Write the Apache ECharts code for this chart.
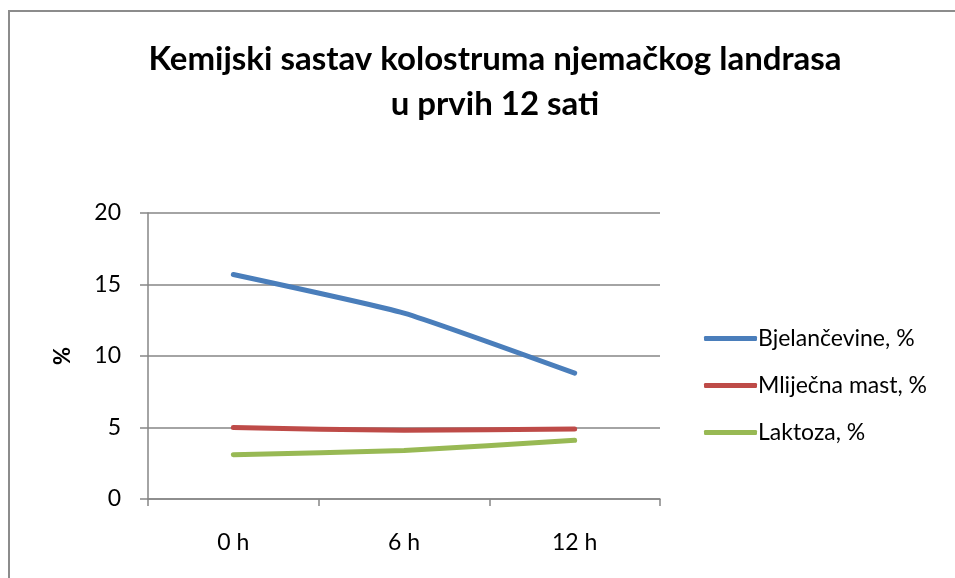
<!DOCTYPE html>
<html>
<head>
<meta charset="utf-8">
<script src="https://cdn.jsdelivr.net/npm/echarts@6/dist/echarts.min.js"></script>
<style>
  html, body { margin: 0; padding: 0; background: #fff; }
  #chart { width: 955px; height: 578px; }
</style>
</head>
<body>
<div id="chart"></div>
<script>
const categories = ['0 h', '6 h', '12 h']
const bjelancevine = [15.7, 13.0, 8.8]
const mlijecnaMast = [5.0, 4.8, 4.9]
const laktoza = [3.1, 3.4, 4.1]

const seriesNames = ['Bjelančevine, %', 'Mliječna mast, %', 'Laktoza, %']
const colors = ['#4A7EBB', '#BE4B48', '#98B954']

const chart = echarts.init(document.getElementById('chart'))

const makeLine = (name, data, color) => ({
  name,
  type: 'line',
  data,
  smooth: 0.15,
  symbol: 'none',
  lineStyle: { width: 5, color, cap: 'round' },
  itemStyle: { color },
})

chart.setOption({
  animation: false,
  backgroundColor: '#fff',
  textStyle: { fontFamily: 'Lato, sans-serif' },
  title: {
    text: 'Kemijski sastav kolostruma njemačkog landrasa\nu prvih 12 sati',
    left: 490,
    textAlign: 'center',
    top: 32,
    textStyle: { fontSize: 33, fontWeight: 'bold', color: '#000', lineHeight: 45, fontFamily: 'Lato, sans-serif' },
  },
  graphic: [
    {
      type: 'polyline',
      shape: { points: [[9, 600], [9, 11], [960, 11]] },
      style: { stroke: '#8c8c8c', lineWidth: 2, fill: null },
    },
  ],
  legend: {
    orient: 'vertical',
    left: 699,
    top: 322,
    itemWidth: 53,
    itemHeight: 5,
    itemGap: 24,
    icon: 'roundRect',
    textStyle: { fontSize: 23, color: '#000', padding: [0, 0, 0, -4] },
    data: seriesNames,
  },
  grid: { left: 148, right: 295, top: 213, bottom: 79 },
  xAxis: {
    type: 'category',
    data: categories,
    boundaryGap: true,
    axisLine: { lineStyle: { color: '#868686', width: 1.5 } },
    axisTick: { show: true, length: 7, lineStyle: { color: '#868686', width: 1.5 } },
    axisLabel: { color: '#000', fontSize: 23, margin: 32 },
  },
  yAxis: {
    type: 'value',
    min: 0,
    max: 20,
    interval: 5,
    name: '%',
    nameLocation: 'middle',
    nameGap: 74,
    nameRotate: 90,
    nameTextStyle: { fontSize: 22, fontWeight: 'bold', color: '#000' },
    axisLine: { show: true, lineStyle: { color: '#868686', width: 1.5 } },
    axisTick: { show: true, length: 8, lineStyle: { color: '#868686', width: 1.5 } },
    axisLabel: { color: '#000', fontSize: 23, margin: 27 },
    splitLine: { lineStyle: { color: '#868686', width: 1.5 } },
  },
  series: [
    makeLine(seriesNames[0], bjelancevine, colors[0]),
    makeLine(seriesNames[1], mlijecnaMast, colors[1]),
    makeLine(seriesNames[2], laktoza, colors[2]),
  ],
})
</script>
</body>
</html>
